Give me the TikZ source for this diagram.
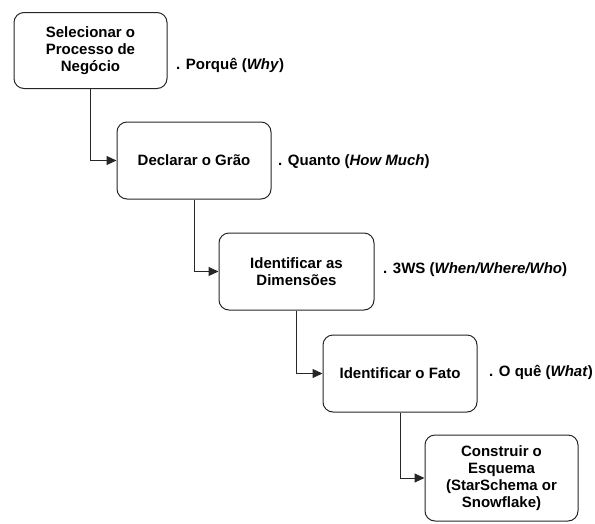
\documentclass[tikz,border=0pt]{standalone}
\usepackage{fontspec}
\setmainfont{Liberation Sans}
\usetikzlibrary{arrows.meta}
\begin{document}
\begin{tikzpicture}[x=1pt,y=-1pt,
  stepbox/.style={draw=black!85,line width=1pt,rounded corners=10pt,align=center,
    font=\fontsize{15}{17}\selectfont\bfseries,inner sep=2pt},
  lbl/.style={anchor=west,font=\fontsize{15}{17}\selectfont\bfseries,inner sep=0pt},
  arr/.style={draw=black!85,line width=1pt,-{Triangle[length=10pt,width=9pt]}}]
\useasboundingbox (0,0) rectangle (595,523);
\node[stepbox,minimum width=153pt,minimum height=76pt] (b1) at (90.5,50.5) {Selecionar o\\Processo de\\Negócio};
\node[stepbox,minimum width=154pt,minimum height=77pt] (b2) at (194,160.5) {Declarar o Grão};
\node[stepbox,minimum width=155pt,minimum height=77pt] (b3) at (296.5,271.5) {Identificar as\\Dimensões};
\node[stepbox,minimum width=154pt,minimum height=77pt] (b4) at (400,373.5) {Identificar o Fato};
\node[stepbox,minimum width=153pt,minimum height=86pt] (b5) at (501.5,478) {Construir o\\Esquema\\(StarSchema or\\Snowflake)};
\node[lbl] (l1) at (176,65) {. Porquê (\textit{Why})};
\node[lbl] (l2) at (278,162) {. Quanto (\textit{How Much})};
\node[lbl] (l3) at (383,270) {. 3WS (\textit{When/Where/Who})};
\node[lbl] (l4) at (489,372) {. O quê (\textit{What})};
\draw[arr] (b1.south) |- (b2.west);
\draw[arr] (b2.south) |- (b3.west);
\draw[arr] (b3.south) |- (b4.west);
\draw[arr] (b4.south) |- (b5.west);
\end{tikzpicture}
\end{document}
